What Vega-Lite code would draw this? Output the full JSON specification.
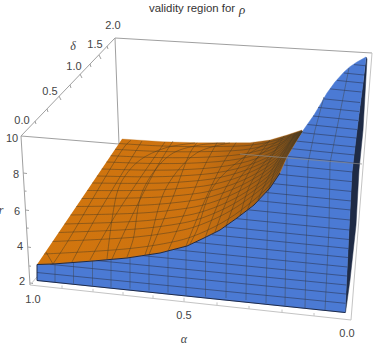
{"$schema":"https://vega.github.io/schema/vega-lite/v6.json","width":374,"height":346,"padding":0,"autosize":{"type":"none"},"background":"white","config":{"view":{"stroke":null}},
"datasets":{
"box":[
{"id":"d","i":0,"x":21,"y":136},{"id":"d","i":1,"x":115,"y":38},
{"id":"b","i":0,"x":115,"y":38},{"id":"b","i":1,"x":372,"y":53},
{"id":"f","i":0,"x":21,"y":136},{"id":"f","i":1,"x":119,"y":144},
{"id":"v","i":0,"x":115,"y":38},{"id":"v","i":1,"x":119,"y":144},
{"id":"z","i":0,"x":21,"y":136},{"id":"z","i":1,"x":30,"y":285},
{"id":"t1","i":0,"x":35,"y":121},{"id":"t1","i":1,"x":36,"y":124},
{"id":"t2","i":0,"x":47,"y":109},{"id":"t2","i":1,"x":48,"y":112},
{"id":"t3","i":0,"x":59,"y":96},{"id":"t3","i":1,"x":61,"y":100},
{"id":"t4","i":0,"x":70,"y":85},{"id":"t4","i":1,"x":71,"y":88},
{"id":"t5","i":0,"x":80,"y":74},{"id":"t5","i":1,"x":82,"y":78},
{"id":"t6","i":0,"x":90,"y":64},{"id":"t6","i":1,"x":91,"y":67},
{"id":"t7","i":0,"x":99,"y":55},{"id":"t7","i":1,"x":101,"y":59},
{"id":"t8","i":0,"x":107,"y":46},{"id":"t8","i":1,"x":108,"y":49},
{"id":"z1","i":0,"x":23.2,"y":173},{"id":"z1","i":1,"x":27,"y":173.5},
{"id":"z2","i":0,"x":24.4,"y":191},{"id":"z2","i":1,"x":26.5,"y":191.2},
{"id":"z3","i":0,"x":25.5,"y":210},{"id":"z3","i":1,"x":29,"y":210.5},
{"id":"z4","i":0,"x":26.6,"y":228},{"id":"z4","i":1,"x":28.7,"y":228.2},
{"id":"z5","i":0,"x":27.7,"y":247},{"id":"z5","i":1,"x":31,"y":247.5},
{"id":"z6","i":0,"x":28.9,"y":266},{"id":"z6","i":1,"x":31,"y":266.2},
{"id":"z7","i":0,"x":29.9,"y":283},{"id":"z7","i":1,"x":33,"y":283.5}
],
"boxlight":[
{"id":"a","i":0,"x":30,"y":285},{"id":"a","i":1,"x":351,"y":320},
{"id":"r","i":0,"x":372,"y":53},{"id":"r","i":1,"x":351,"y":320},
{"id":"c","i":0,"x":30,"y":285},{"id":"c","i":1,"x":37,"y":277},
{"id":"n1","i":0,"x":62,"y":288.5},{"id":"n1","i":1,"x":62,"y":285.5},
{"id":"n2","i":0,"x":93,"y":291.9},{"id":"n2","i":1,"x":93,"y":288.9},
{"id":"n3","i":0,"x":123,"y":295.1},{"id":"n3","i":1,"x":123,"y":292.1},
{"id":"n4","i":0,"x":153,"y":298.4},{"id":"n4","i":1,"x":153,"y":295.4},
{"id":"n5","i":0,"x":184,"y":301.8},{"id":"n5","i":1,"x":184,"y":297.8},
{"id":"n6","i":0,"x":217,"y":305.4},{"id":"n6","i":1,"x":217,"y":302.4},
{"id":"n7","i":0,"x":249,"y":308.9},{"id":"n7","i":1,"x":249,"y":305.9},
{"id":"n8","i":0,"x":282,"y":312.5},{"id":"n8","i":1,"x":282,"y":309.5},
{"id":"n9","i":0,"x":314,"y":316},{"id":"n9","i":1,"x":314,"y":313}
],
"dark":[{"id":"k","i":0,"x":366,"y":57},{"id":"k","i":1,"x":367,"y":59},{"id":"k","i":2,"x":363,"y":130},{"id":"k","i":3,"x":359,"y":170},{"id":"k","i":4,"x":356,"y":225},{"id":"k","i":5,"x":350,"y":280},{"id":"k","i":6,"x":345.5,"y":312.5},{"id":"k","i":7,"x":345,"y":312.5},{"id":"k","i":8,"x":349,"y":230},{"id":"k","i":9,"x":352,"y":172},{"id":"k","i":10,"x":356.5,"y":134},{"id":"k","i":11,"x":363,"y":83}],
"blue":[{"id":"p","i":0,"x":37,"y":264.5},{"id":"p","i":1,"x":53,"y":264},{"id":"p","i":2,"x":93,"y":261},{"id":"p","i":3,"x":127,"y":258},{"id":"p","i":4,"x":160,"y":253},{"id":"p","i":5,"x":187,"y":246},{"id":"p","i":6,"x":204,"y":238},{"id":"p","i":7,"x":220,"y":230},{"id":"p","i":8,"x":237,"y":218},{"id":"p","i":9,"x":254,"y":205},{"id":"p","i":10,"x":270,"y":188},{"id":"p","i":11,"x":280,"y":173},{"id":"p","i":12,"x":287,"y":157},{"id":"p","i":13,"x":302,"y":132},{"id":"p","i":14,"x":314,"y":115},{"id":"p","i":15,"x":320,"y":105},{"id":"p","i":16,"x":327,"y":93},{"id":"p","i":17,"x":335,"y":82},{"id":"p","i":18,"x":344,"y":72},{"id":"p","i":19,"x":350,"y":66.7},{"id":"p","i":20,"x":357,"y":62},{"id":"p","i":21,"x":366,"y":57},{"id":"p","i":22,"x":363,"y":83},{"id":"p","i":23,"x":356.5,"y":134},{"id":"p","i":24,"x":352,"y":172},{"id":"p","i":25,"x":349,"y":230},{"id":"p","i":26,"x":345,"y":312.5},{"id":"p","i":27,"x":37,"y":280.5}],
"orange":[{"id":"o","i":0,"x":37,"y":264.5},{"id":"o","i":1,"x":53,"y":264},{"id":"o","i":2,"x":93,"y":261},{"id":"o","i":3,"x":127,"y":258},{"id":"o","i":4,"x":160,"y":253},{"id":"o","i":5,"x":187,"y":246},{"id":"o","i":6,"x":204,"y":238},{"id":"o","i":7,"x":220,"y":230},{"id":"o","i":8,"x":237,"y":218},{"id":"o","i":9,"x":254,"y":205},{"id":"o","i":10,"x":270,"y":188},{"id":"o","i":11,"x":280,"y":173},{"id":"o","i":12,"x":287,"y":157},{"id":"o","i":13,"x":302,"y":132},{"id":"o","i":14,"x":302,"y":130},{"id":"o","i":15,"x":287,"y":135},{"id":"o","i":16,"x":270,"y":140},{"id":"o","i":17,"x":250,"y":142.7},{"id":"o","i":18,"x":197,"y":142.7},{"id":"o","i":19,"x":163,"y":141.7},{"id":"o","i":20,"x":122,"y":139}],
"bluemeshH":[
{"id":"h1","i":0,"x":37,"y":272.5},{"id":"h1","i":1,"x":345.5,"y":303.3},
{"id":"h2","i":0,"x":50,"y":264.3},{"id":"h2","i":1,"x":346,"y":294},
{"id":"h3","i":0,"x":96,"y":260.5},{"id":"h3","i":1,"x":346.5,"y":285},
{"id":"h4","i":0,"x":142,"y":255.6},{"id":"h4","i":1,"x":347,"y":276},
{"id":"h5","i":0,"x":174,"y":249.6},{"id":"h5","i":1,"x":347.5,"y":267},
{"id":"h6","i":0,"x":195,"y":242.3},{"id":"h6","i":1,"x":348,"y":257.5},
{"id":"h7","i":0,"x":212,"y":234.7},{"id":"h7","i":1,"x":348.5,"y":248.5},
{"id":"h8","i":0,"x":225,"y":226.9},{"id":"h8","i":1,"x":349,"y":239.5},
{"id":"h9","i":0,"x":236,"y":218.6},{"id":"h9","i":1,"x":349.5,"y":230},
{"id":"h10","i":0,"x":248,"y":209.8},{"id":"h10","i":1,"x":350,"y":220},
{"id":"h11","i":0,"x":258,"y":200.7},{"id":"h11","i":1,"x":351,"y":210},
{"id":"h12","i":0,"x":266,"y":192.5},{"id":"h12","i":1,"x":351.5,"y":201},
{"id":"h13","i":0,"x":273,"y":183.6},{"id":"h13","i":1,"x":352,"y":191.5},
{"id":"h14","i":0,"x":279,"y":174.3},{"id":"h14","i":1,"x":352.5,"y":181.7},
{"id":"h15","i":0,"x":283.5,"y":165},{"id":"h15","i":1,"x":353,"y":172},
{"id":"h16","i":0,"x":287.5,"y":156.3},{"id":"h16","i":1,"x":354,"y":163},
{"id":"h17","i":0,"x":292,"y":148.7},{"id":"h17","i":1,"x":355,"y":155},
{"id":"h18","i":0,"x":296.5,"y":141.1},{"id":"h18","i":1,"x":355.5,"y":147},
{"id":"h19","i":0,"x":302.5,"y":132.7},{"id":"h19","i":1,"x":356,"y":138},
{"id":"h20","i":0,"x":307.5,"y":124.5},{"id":"h20","i":1,"x":357,"y":129.5},
{"id":"h21","i":0,"x":313,"y":116},{"id":"h21","i":1,"x":358,"y":120.5},
{"id":"h22","i":0,"x":318,"y":107.4},{"id":"h22","i":1,"x":359,"y":111.5},
{"id":"h23","i":0,"x":324,"y":98.9},{"id":"h23","i":1,"x":360,"y":102.5},
{"id":"h24","i":0,"x":330,"y":88.9},{"id":"h24","i":1,"x":361.5,"y":92},
{"id":"h25","i":0,"x":337,"y":80.4},{"id":"h25","i":1,"x":363,"y":83},
{"id":"h26","i":0,"x":344,"y":73},{"id":"h26","i":1,"x":364,"y":75},
{"id":"h27","i":0,"x":354,"y":64.6},{"id":"h27","i":1,"x":365,"y":65.7}
],
"bluemeshV":[
{"id":"v1","i":0,"x":55,"y":282},{"id":"v1","i":1,"x":55,"y":264},
{"id":"v2","i":0,"x":73.5,"y":283.5},{"id":"v2","i":1,"x":73.5,"y":263},
{"id":"v3","i":0,"x":92.5,"y":285.5},{"id":"v3","i":1,"x":92.5,"y":261},
{"id":"v4","i":0,"x":111,"y":287},{"id":"v4","i":1,"x":111,"y":260},
{"id":"v5","i":0,"x":130,"y":288.5},{"id":"v5","i":1,"x":130,"y":258},
{"id":"v6","i":0,"x":149,"y":290.5},{"id":"v6","i":1,"x":149,"y":255},
{"id":"v7","i":0,"x":168,"y":292.5},{"id":"v7","i":1,"x":168,"y":251},
{"id":"v8","i":0,"x":186,"y":295},{"id":"v8","i":1,"x":186,"y":246},
{"id":"v9","i":0,"x":205.5,"y":296.5},{"id":"v9","i":1,"x":205.5,"y":238},
{"id":"v10","i":0,"x":226,"y":298},{"id":"v10","i":1,"x":226.5,"y":226},
{"id":"v11","i":0,"x":246,"y":300},{"id":"v11","i":1,"x":247,"y":211},
{"id":"v12","i":0,"x":266,"y":303},{"id":"v12","i":1,"x":268,"y":192},
{"id":"v13","i":0,"x":285,"y":305.5},{"id":"v13","i":1,"x":287,"y":158},
{"id":"v14","i":0,"x":305,"y":308},{"id":"v14","i":1,"x":306.7,"y":225},{"id":"v14","i":2,"x":308,"y":163},{"id":"v14","i":3,"x":315,"y":130},{"id":"v14","i":4,"x":324,"y":97},
{"id":"v15","i":0,"x":325,"y":310.5},{"id":"v15","i":1,"x":329,"y":228},{"id":"v15","i":2,"x":330,"y":163},{"id":"v15","i":3,"x":337,"y":128},{"id":"v15","i":4,"x":349,"y":68}
],
"orangemesh":[
{"id":"a1","i":0,"x":44.1,"y":254},{"id":"a1","i":1,"x":98.6,"y":251},{"id":"a1","i":2,"x":132,"y":248.3},{"id":"a1","i":3,"x":163.8,"y":243.7},{"id":"a1","i":4,"x":190.2,"y":237.3},{"id":"a1","i":5,"x":222.1,"y":222.7},{"id":"a1","i":6,"x":246.4,"y":206},{"id":"a1","i":7,"x":270.7,"y":183.8},{"id":"a1","i":8,"x":287.4,"y":155.1},{"id":"a1","i":9,"x":302,"y":131.5},
{"id":"a2","i":0,"x":52.6,"y":241.5},{"id":"a2","i":1,"x":105.3,"y":239.1},{"id":"a2","i":2,"x":138,"y":236.8},{"id":"a2","i":3,"x":168.2,"y":232.8},{"id":"a2","i":4,"x":194,"y":227.1},{"id":"a2","i":5,"x":224.6,"y":214},{"id":"a2","i":6,"x":248.1,"y":199},{"id":"a2","i":7,"x":271.5,"y":178.9},{"id":"a2","i":8,"x":287.9,"y":152.8},{"id":"a2","i":9,"x":302,"y":131.5},
{"id":"a3","i":0,"x":58.7,"y":232.5},{"id":"a3","i":1,"x":110.1,"y":230.5},{"id":"a3","i":2,"x":142.3,"y":228.5},{"id":"a3","i":3,"x":171.5,"y":224.9},{"id":"a3","i":4,"x":196.7,"y":219.7},{"id":"a3","i":5,"x":226.4,"y":207.7},{"id":"a3","i":6,"x":249.3,"y":193.9},{"id":"a3","i":7,"x":272,"y":175.3},{"id":"a3","i":8,"x":288.3,"y":151.1},{"id":"a3","i":9,"x":302,"y":131.5},
{"id":"a4","i":0,"x":64.5,"y":224},{"id":"a4","i":1,"x":114.6,"y":222.4},{"id":"a4","i":2,"x":146.4,"y":220.6},{"id":"a4","i":3,"x":174.5,"y":217.4},{"id":"a4","i":4,"x":199.3,"y":212.6},{"id":"a4","i":5,"x":228.1,"y":201.8},{"id":"a4","i":6,"x":250.5,"y":189.1},{"id":"a4","i":7,"x":272.6,"y":171.9},{"id":"a4","i":8,"x":288.6,"y":149.6},{"id":"a4","i":9,"x":302,"y":131.5},
{"id":"a5","i":0,"x":70.5,"y":215},{"id":"a5","i":1,"x":119.4,"y":213.9},{"id":"a5","i":2,"x":150.6,"y":212.4},{"id":"a5","i":3,"x":177.7,"y":209.5},{"id":"a5","i":4,"x":202,"y":205.3},{"id":"a5","i":5,"x":229.9,"y":195.6},{"id":"a5","i":6,"x":251.7,"y":184},{"id":"a5","i":7,"x":273.2,"y":168.3},{"id":"a5","i":8,"x":289,"y":147.9},{"id":"a5","i":9,"x":302,"y":131.5},
{"id":"a6","i":0,"x":76.3,"y":206.5},{"id":"a6","i":1,"x":124,"y":205.8},{"id":"a6","i":2,"x":154.7,"y":204.5},{"id":"a6","i":3,"x":180.8,"y":202},{"id":"a6","i":4,"x":204.6,"y":198.3},{"id":"a6","i":5,"x":231.6,"y":189.7},{"id":"a6","i":6,"x":252.9,"y":179.2},{"id":"a6","i":7,"x":273.7,"y":164.9},{"id":"a6","i":8,"x":289.3,"y":146.4},{"id":"a6","i":9,"x":302,"y":131.5},
{"id":"a7","i":0,"x":81.7,"y":198.5},{"id":"a7","i":1,"x":128.2,"y":198.1},{"id":"a7","i":2,"x":158.6,"y":197.1},{"id":"a7","i":3,"x":183.7,"y":195},{"id":"a7","i":4,"x":207,"y":191.7},{"id":"a7","i":5,"x":233.2,"y":184.1},{"id":"a7","i":6,"x":253.9,"y":174.7},{"id":"a7","i":7,"x":274.2,"y":161.7},{"id":"a7","i":8,"x":289.6,"y":144.9},{"id":"a7","i":9,"x":302,"y":131.5},
{"id":"a8","i":0,"x":87.2,"y":190.5},{"id":"a8","i":1,"x":132.5,"y":190.5},{"id":"a8","i":2,"x":162.4,"y":189.7},{"id":"a8","i":3,"x":186.6,"y":187.9},{"id":"a8","i":4,"x":209.4,"y":185.1},{"id":"a8","i":5,"x":234.8,"y":178.5},{"id":"a8","i":6,"x":255,"y":170.1},{"id":"a8","i":7,"x":274.7,"y":158.5},{"id":"a8","i":8,"x":290,"y":143.4},{"id":"a8","i":9,"x":302,"y":131.5},
{"id":"a9","i":0,"x":92.2,"y":183},{"id":"a9","i":1,"x":136.5,"y":183.4},{"id":"a9","i":2,"x":165.9,"y":182.9},{"id":"a9","i":3,"x":189.2,"y":181.4},{"id":"a9","i":4,"x":211.7,"y":179},{"id":"a9","i":5,"x":236.2,"y":173.3},{"id":"a9","i":6,"x":256,"y":165.9},{"id":"a9","i":7,"x":275.2,"y":155.6},{"id":"a9","i":8,"x":290.2,"y":142.1},{"id":"a9","i":9,"x":302,"y":131.5},
{"id":"a10","i":0,"x":96.9,"y":176},{"id":"a10","i":1,"x":140.2,"y":176.8},{"id":"a10","i":2,"x":169.3,"y":176.4},{"id":"a10","i":3,"x":191.7,"y":175.2},{"id":"a10","i":4,"x":213.8,"y":173.2},{"id":"a10","i":5,"x":237.6,"y":168.5},{"id":"a10","i":6,"x":257,"y":162},{"id":"a10","i":7,"x":275.6,"y":152.8},{"id":"a10","i":8,"x":290.5,"y":140.8},{"id":"a10","i":9,"x":302,"y":131.5},
{"id":"a11","i":0,"x":101.7,"y":169},{"id":"a11","i":1,"x":144,"y":170.1},{"id":"a11","i":2,"x":172.7,"y":170},{"id":"a11","i":3,"x":194.2,"y":169.1},{"id":"a11","i":4,"x":215.9,"y":167.4},{"id":"a11","i":5,"x":239,"y":163.6},{"id":"a11","i":6,"x":257.9,"y":158},{"id":"a11","i":7,"x":276.1,"y":150},{"id":"a11","i":8,"x":290.8,"y":139.5},{"id":"a11","i":9,"x":302,"y":131.5},
{"id":"a12","i":0,"x":106.4,"y":162},{"id":"a12","i":1,"x":147.7,"y":163.4},{"id":"a12","i":2,"x":176,"y":163.5},{"id":"a12","i":3,"x":196.8,"y":162.9},{"id":"a12","i":4,"x":218,"y":161.6},{"id":"a12","i":5,"x":240.4,"y":158.7},{"id":"a12","i":6,"x":258.9,"y":154},{"id":"a12","i":7,"x":276.5,"y":147.2},{"id":"a12","i":8,"x":291.1,"y":138.2},{"id":"a12","i":9,"x":302,"y":131.5},
{"id":"a13","i":0,"x":110.7,"y":155.7},{"id":"a13","i":1,"x":151.1,"y":157.4},{"id":"a13","i":2,"x":179,"y":157.7},{"id":"a13","i":3,"x":199,"y":157.4},{"id":"a13","i":4,"x":220,"y":156.4},{"id":"a13","i":5,"x":241.7,"y":154.3},{"id":"a13","i":6,"x":259.7,"y":150.4},{"id":"a13","i":7,"x":276.9,"y":144.7},{"id":"a13","i":8,"x":291.3,"y":137.1},{"id":"a13","i":9,"x":302,"y":131.5},
{"id":"a14","i":0,"x":115,"y":149.3},{"id":"a14","i":1,"x":154.5,"y":151.3},{"id":"a14","i":2,"x":182.1,"y":151.8},{"id":"a14","i":3,"x":201.3,"y":151.7},{"id":"a14","i":4,"x":221.9,"y":151.2},{"id":"a14","i":5,"x":243,"y":149.9},{"id":"a14","i":6,"x":260.6,"y":146.8},{"id":"a14","i":7,"x":277.3,"y":142.1},{"id":"a14","i":8,"x":291.6,"y":135.9},{"id":"a14","i":9,"x":302,"y":131.5},
{"id":"a15","i":0,"x":118.9,"y":143.5},{"id":"a15","i":1,"x":157.6,"y":145.8},{"id":"a15","i":2,"x":184.8,"y":146.5},{"id":"a15","i":3,"x":203.4,"y":146.7},{"id":"a15","i":4,"x":223.6,"y":146.4},{"id":"a15","i":5,"x":244.1,"y":145.8},{"id":"a15","i":6,"x":261.4,"y":143.6},{"id":"a15","i":7,"x":277.7,"y":139.8},{"id":"a15","i":8,"x":291.8,"y":134.8},{"id":"a15","i":9,"x":302,"y":131.5},
{"id":"s0","i":0,"x":53,"y":264},{"id":"s0","i":1,"x":46,"y":252},
{"id":"s1","i":0,"x":53,"y":264},{"id":"s1","i":1,"x":66.7,"y":243},{"id":"s1","i":2,"x":125,"y":146},{"id":"s1","i":3,"x":131,"y":140.3},
{"id":"s2","i":0,"x":72,"y":262},{"id":"s2","i":1,"x":96.7,"y":216},{"id":"s2","i":2,"x":142,"y":141},
{"id":"s3","i":0,"x":90,"y":260},{"id":"s3","i":1,"x":115,"y":216},{"id":"s3","i":2,"x":165,"y":142},
{"id":"s4","i":0,"x":112,"y":259},{"id":"s4","i":1,"x":130,"y":220},{"id":"s4","i":2,"x":157,"y":167},{"id":"s4","i":3,"x":173,"y":141},
{"id":"s5","i":0,"x":149,"y":254.5},{"id":"s5","i":1,"x":173,"y":197},{"id":"s5","i":2,"x":190,"y":153},{"id":"s5","i":3,"x":197,"y":142.7},
{"id":"s6","i":0,"x":168,"y":251},{"id":"s6","i":1,"x":188,"y":205},{"id":"s6","i":2,"x":205,"y":165},{"id":"s6","i":3,"x":217,"y":142.7},
{"id":"s7","i":0,"x":186,"y":246},{"id":"s7","i":1,"x":205,"y":200},{"id":"s7","i":2,"x":222,"y":165},{"id":"s7","i":3,"x":236,"y":142.7},
{"id":"s8","i":0,"x":205,"y":238},{"id":"s8","i":1,"x":222,"y":195},{"id":"s8","i":2,"x":240,"y":165},{"id":"s8","i":3,"x":254,"y":142.5},
{"id":"s9","i":0,"x":226,"y":226},{"id":"s9","i":1,"x":240,"y":190},{"id":"s9","i":2,"x":256,"y":160},{"id":"s9","i":3,"x":270,"y":140},
{"id":"s10","i":0,"x":247,"y":211},{"id":"s10","i":1,"x":257,"y":186},{"id":"s10","i":2,"x":270,"y":160},{"id":"s10","i":3,"x":284,"y":136},
{"id":"s11","i":0,"x":268,"y":192},{"id":"s11","i":1,"x":276,"y":168},{"id":"s11","i":2,"x":286,"y":150},{"id":"s11","i":3,"x":295,"y":133},
{"id":"c1","i":0,"x":107,"y":259},{"id":"c1","i":1,"x":117,"y":193},{"id":"c1","i":2,"x":125,"y":176},{"id":"c1","i":3,"x":140,"y":160},{"id":"c1","i":4,"x":165,"y":148},{"id":"c1","i":5,"x":195,"y":143},
{"id":"c2","i":0,"x":127,"y":257},{"id":"c2","i":1,"x":133,"y":240},{"id":"c2","i":2,"x":143,"y":190},{"id":"c2","i":3,"x":170,"y":155},{"id":"c2","i":4,"x":200,"y":145},{"id":"c2","i":5,"x":225,"y":143},
{"id":"c3","i":0,"x":145,"y":255},{"id":"c3","i":1,"x":150,"y":240},{"id":"c3","i":2,"x":166.7,"y":186.7},{"id":"c3","i":3,"x":196.7,"y":153},{"id":"c3","i":4,"x":230,"y":143},
{"id":"c4","i":0,"x":190,"y":244},{"id":"c4","i":1,"x":197,"y":230},{"id":"c4","i":2,"x":213,"y":187},{"id":"c4","i":3,"x":240,"y":160},{"id":"c4","i":4,"x":270,"y":141},
{"id":"c5","i":0,"x":215,"y":232},{"id":"c5","i":1,"x":232,"y":190},{"id":"c5","i":2,"x":255,"y":160},{"id":"c5","i":3,"x":282,"y":138},
{"id":"c6","i":0,"x":240,"y":216},{"id":"c6","i":1,"x":250,"y":185},{"id":"c6","i":2,"x":268,"y":158},{"id":"c6","i":3,"x":292,"y":134},
{"id":"c7","i":0,"x":258,"y":200},{"id":"c7","i":1,"x":268,"y":178},{"id":"c7","i":2,"x":282,"y":153},{"id":"c7","i":3,"x":298,"y":132}
],
"front":[{"id":"e","i":0,"x":37,"y":280.5},{"id":"e","i":1,"x":37,"y":264.5},{"id":"e","i":2,"x":53,"y":264},{"id":"e","i":3,"x":93,"y":261},{"id":"e","i":4,"x":127,"y":258},{"id":"e","i":5,"x":160,"y":253},{"id":"e","i":6,"x":187,"y":246},{"id":"e","i":7,"x":204,"y":238},{"id":"e","i":8,"x":220,"y":230},{"id":"e","i":9,"x":237,"y":218},{"id":"e","i":10,"x":254,"y":205},{"id":"e","i":11,"x":270,"y":188},{"id":"e","i":12,"x":280,"y":173},
{"id":"g","i":0,"x":37,"y":280.5},{"id":"g","i":1,"x":345,"y":312.5}],
"overbox":[{"id":"q","i":0,"x":240,"y":154},{"id":"q","i":1,"x":362,"y":164}],
"labels":[
{"t":"2.0","x":113,"y":26},{"t":"1.5","x":95,"y":45},{"t":"1.0","x":74,"y":67},{"t":"0.5","x":50,"y":92},{"t":"0.0","x":22,"y":121},
{"t":"10","x":12,"y":139},{"t":"8","x":16,"y":175},{"t":"6","x":17,"y":212},{"t":"4","x":20,"y":247},{"t":"2","x":22,"y":282},
{"t":"1.0","x":33,"y":300},{"t":"0.5","x":184,"y":316},{"t":"0.0","x":347,"y":334}],
"title":[{"t":"validity region for","x":149,"y":9}],
"ital":[{"t":"δ","x":73,"y":46},{"t":"r","x":1,"y":210},{"t":"α","x":184,"y":339}],
"rho":[{"t":"ρ","x":242,"y":10}]
},
"encoding":{"x":{"field":"x","type":"quantitative","scale":{"domain":[0,374],"nice":false,"zero":false},"axis":null},"y":{"field":"y","type":"quantitative","scale":{"domain":[346,0],"nice":false,"zero":false},"axis":null}},
"layer":[
{"data":{"name":"box"},"mark":{"type":"line","stroke":"#a0a0a0","strokeWidth":1},"encoding":{"detail":{"field":"id"},"order":{"field":"i","type":"quantitative"}}},
{"data":{"name":"boxlight"},"mark":{"type":"line","stroke":"#c4c4c4","strokeWidth":1},"encoding":{"detail":{"field":"id"},"order":{"field":"i","type":"quantitative"}}},
{"data":{"name":"dark"},"mark":{"type":"line","fill":"#1f2b45","stroke":"#1f2b45","strokeWidth":0.5},"encoding":{"order":{"field":"i","type":"quantitative"}}},
{"data":{"name":"blue"},"mark":{"type":"line","fill":"#4b7ad4","stroke":"#4b7ad4","strokeWidth":0.5},"encoding":{"order":{"field":"i","type":"quantitative"}}},
{"data":{"name":"bluemeshV"},"mark":{"type":"line","stroke":"#44597f","strokeWidth":1,"opacity":0.75},"encoding":{"detail":{"field":"id"},"order":{"field":"i","type":"quantitative"}}},
{"data":{"name":"bluemeshH"},"mark":{"type":"line","stroke":"#2e3d60","strokeWidth":0.9,"opacity":0.7},"encoding":{"detail":{"field":"id"},"order":{"field":"i","type":"quantitative"}}},
{"data":{"name":"orange"},"mark":{"type":"line","fill":{"gradient":"linear","x1":0,"y1":0,"x2":1,"y2":0,"stops":[{"offset":0,"color":"#d2760e"},{"offset":0.6,"color":"#cc7210"},{"offset":0.8,"color":"#ad6212"},{"offset":1,"color":"#6e4a1e"}]},"stroke":"#b86a10","strokeWidth":0.3},"encoding":{"order":{"field":"i","type":"quantitative"}}},
{"data":{"name":"orangemesh"},"mark":{"type":"line","stroke":"#4a3a22","strokeWidth":0.8,"opacity":0.6,"interpolate":"catmull-rom"},"encoding":{"detail":{"field":"id"},"order":{"field":"i","type":"quantitative"}}},
{"data":{"name":"front"},"mark":{"type":"line","stroke":"#1e2a48","strokeWidth":1},"encoding":{"detail":{"field":"id"},"order":{"field":"i","type":"quantitative"}}},
{"data":{"name":"overbox"},"mark":{"type":"line","stroke":"#8a8a8a","strokeWidth":1,"opacity":0.7},"encoding":{"order":{"field":"i","type":"quantitative"}}},
{"data":{"name":"labels"},"mark":{"type":"text","font":"Liberation Sans","fontSize":11,"fill":"#444444"},"encoding":{"text":{"field":"t"}}},
{"data":{"name":"title"},"mark":{"type":"text","font":"Liberation Sans","fontSize":11.4,"fill":"#333333","align":"left"},"encoding":{"text":{"field":"t"}}},
{"data":{"name":"ital"},"mark":{"type":"text","font":"Liberation Serif","fontStyle":"italic","fontSize":12,"fill":"#444444"},"encoding":{"text":{"field":"t"}}},
{"data":{"name":"rho"},"mark":{"type":"text","font":"Liberation Serif","fontStyle":"italic","fontSize":13,"fill":"#333333"},"encoding":{"text":{"field":"t"}}}
]}
